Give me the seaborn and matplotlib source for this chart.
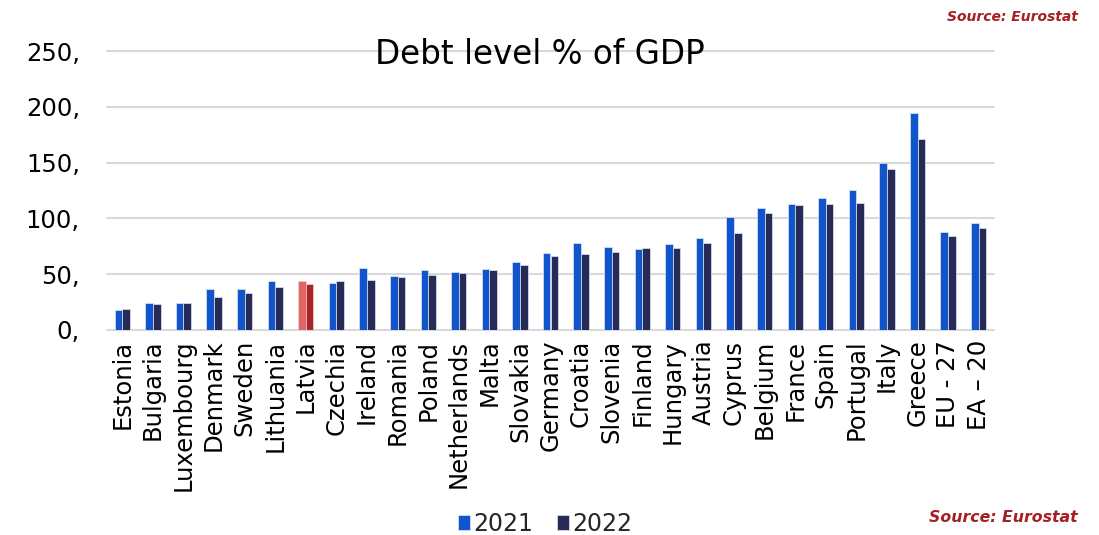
import matplotlib
matplotlib.use("Agg")
import matplotlib.pyplot as plt
import seaborn as sns
import pandas as pd
from matplotlib.ticker import FuncFormatter, FixedLocator

countries = ["Estonia", "Bulgaria", "Luxembourg", "Denmark", "Sweden", "Lithuania",
             "Latvia", "Czechia", "Ireland", "Romania", "Poland", "Netherlands",
             "Malta", "Slovakia", "Germany", "Croatia", "Slovenia", "Finland",
             "Hungary", "Austria", "Cyprus", "Belgium", "France", "Spain",
             "Portugal", "Italy", "Greece", "EU - 27", "EA \u2013 20"]
debt_2021 = [17.8, 23.9, 24.5, 36.7, 36.5, 43.7, 44.0, 42.0, 55.4, 48.5, 53.6, 52.4,
             55.1, 61.1, 69.0, 78.4, 74.5, 72.5, 76.8, 82.5, 101.2, 109.1, 112.9,
             118.4, 125.4, 149.9, 194.6, 88.0, 95.5]
debt_2022 = [18.4, 22.9, 24.6, 29.8, 33.2, 38.4, 40.8, 44.1, 44.7, 47.3, 49.1, 51.0,
             53.4, 57.8, 66.3, 68.4, 69.9, 73.3, 73.3, 78.4, 86.5, 105.1, 111.6,
             113.2, 113.9, 144.4, 171.3, 84.0, 91.5]
years = ["2021", "2022"]
yticks = [0, 50, 100, 150, 200, 250]
highlight = "Latvia"

df = pd.DataFrame({
    "country": countries * 2,
    "year": [years[0]] * len(countries) + [years[1]] * len(countries),
    "debt": debt_2021 + debt_2022,
})

sns.set_theme(style="white")
plt.rcParams["font.family"] = ["DejaVu Sans"]

fig = plt.figure(figsize=(10.99, 5.35), dpi=100)
ax = fig.add_axes([107 / 1099, 1 - 330 / 535, 887 / 1099, 279 / 535])

pal = {"2021": "#1155CC", "2022": "#262A57"}
sns.barplot(data=df, x="country", y="debt", hue="year", order=countries,
            hue_order=years, palette=pal, width=0.5, ax=ax,
            edgecolor="#dfe6f5", linewidth=0.5, legend=True, saturation=1)

# recolor highlighted country
idx = countries.index(highlight)
n = len(countries)
ax.patches[idx].set_facecolor("#E06666")
ax.patches[idx].set_edgecolor("#f2d0d0")
ax.patches[n + idx].set_facecolor("#AB2328")
ax.patches[n + idx].set_edgecolor("#f2d0d0")

ax.set_ylim(0, 250)
ax.yaxis.set_major_locator(FixedLocator(yticks))
ax.yaxis.set_major_formatter(FuncFormatter(lambda v, p: f"{int(v)},"))
ax.grid(axis="y", color="#D9D9D9", linewidth=1.5)
ax.set_axisbelow(True)
for gl in ax.get_ygridlines():
    gl.set_clip_on(False)
for s in ax.spines.values():
    s.set_visible(False)
ax.set_xlabel("")
ax.set_ylabel("")
ax.tick_params(axis="y", labelsize=17.5, pad=19.5, length=0, colors="black")
ax.tick_params(axis="x", labelsize=17.5, rotation=90, length=0, pad=7, colors="black")

handles, labels = ax.get_legend_handles_labels()
ax.get_legend().remove()
fig.legend(handles[:2], labels[:2], loc="center", bbox_to_anchor=(545 / 1099, 1 - 524 / 535),
           ncol=2, frameon=False, fontsize=17, handlelength=0.5, handleheight=0.6,
           handletextpad=0.15, columnspacing=1.0)

fig.text(540 / 1099, 1 - 55 / 535, "Debt level % of GDP", ha="center", va="center",
         fontsize=23.5, color="black")
fig.text(1078 / 1099, 1 - 17 / 535, "Source: Eurostat", ha="right", va="center",
         fontsize=10, color="#A51F24", fontweight="bold", fontstyle="italic")
fig.text(1078 / 1099, 1 - 518 / 535, "Source: Eurostat", ha="right", va="center",
         fontsize=11.3, color="#A51F24", fontweight="bold", fontstyle="italic")

fig.savefig("out.png", dpi=100)
